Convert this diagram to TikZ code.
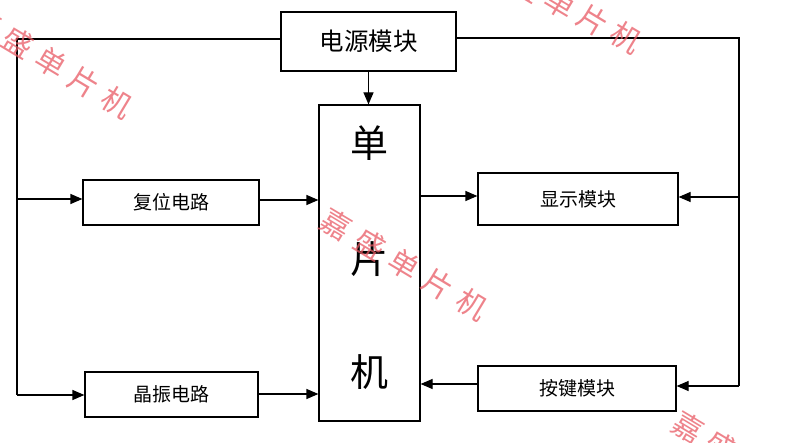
\documentclass[tikz,border=0pt]{standalone}
\usepackage{fontspec}
\newfontfamily\cjk{Noto Sans CJK SC}
\usetikzlibrary{arrows.meta}
\definecolor{wm}{RGB}{232,90,100}
\tikzset{
  box/.style={draw=black, line width=1.2pt, fill=none, inner sep=0pt, font=\cjk\fontsize{19}{19}\selectfont},
  link/.style={draw=black, line width=1.2pt},
  arr/.style={link, -{Triangle[length=12pt,width=10pt]}},
  wmk/.style={text=wm, opacity=0.75, rotate=-31, inner sep=0pt, font=\cjk\fontsize{30}{30}\selectfont}
}
\begin{document}
\begin{tikzpicture}[x=1pt,y=-1pt]
\useasboundingbox (0,0) rectangle (794,443);
% boxes
\node[box, minimum width=175pt, minimum height=59pt, font=\cjk\fontsize{24.5}{24.5}\selectfont] (power) at (368.5,41.5) {电源模块};
\node[box, minimum width=101pt, minimum height=316pt] (mcu) at (369.5,263) {};
\node[font=\cjk\fontsize{38}{38}\selectfont] (c1) at (369.5,143) {单};
\node[font=\cjk\fontsize{38}{38}\selectfont] (c2) at (369.5,259) {片};
\node[font=\cjk\fontsize{38}{38}\selectfont] (c3) at (369.5,372) {机};
\node[box, minimum width=176pt, minimum height=45pt] (reset) at (171,202.5) {复位电路};
\node[box, minimum width=173pt, minimum height=45pt] (osc) at (171.5,394.5) {晶振电路};
\node[box, minimum width=200pt, minimum height=52pt] (disp) at (578,199) {显示模块};
\node[box, minimum width=198pt, minimum height=45pt] (key) at (577,388.5) {按键模块};
% bus coordinates
\coordinate (LT) at (17,39);
\coordinate (LR) at (17,199);
\coordinate (LB) at (17,395);
\coordinate (RT) at (739,38);
\coordinate (RD) at (739,197);
\coordinate (RB) at (739,386);
% connectors
\draw[link] (power.west |- LT) -- (LT) -- (LB);
\draw[arr] (LR) -- (reset.west |- LR);
\draw[arr] (LB) -- (osc.west |- LB);
\draw[link] (power.east |- RT) -- (RT) -- (RB);
\draw[arr] (RD) -- (disp.east |- RD);
\draw[arr] (RB) -- (key.east |- RB);
\draw[arr] (power.south) -- (mcu.north -| power.south);
\draw[arr] (reset.east |- 0,200) -- (mcu.west |- 0,200);
\draw[arr] (osc.east |- 0,394) -- (mcu.west |- 0,394);
\draw[arr] (mcu.east |- 0,196) -- (disp.west |- 0,196);
\draw[arr] (key.west |- 0,384) -- (mcu.east |- 0,384);
% watermarks
\foreach \ch [count=\i from 0] in {嘉,盛,单,片,机} {
  \node[wmk] (wa\i) at ({-15+33*\i},{22+20*\i}) {\ch};
  \node[wmk] (wb\i) at ({336+34*\i},{224+20*\i}) {\ch};
  \node[wmk] (wc\i) at ({494+33*\i},{-31+17*\i}) {\ch};
  \node[wmk] (wd\i) at ({688+33*\i},{427+19*\i}) {\ch};
}
\end{tikzpicture}
\end{document}
